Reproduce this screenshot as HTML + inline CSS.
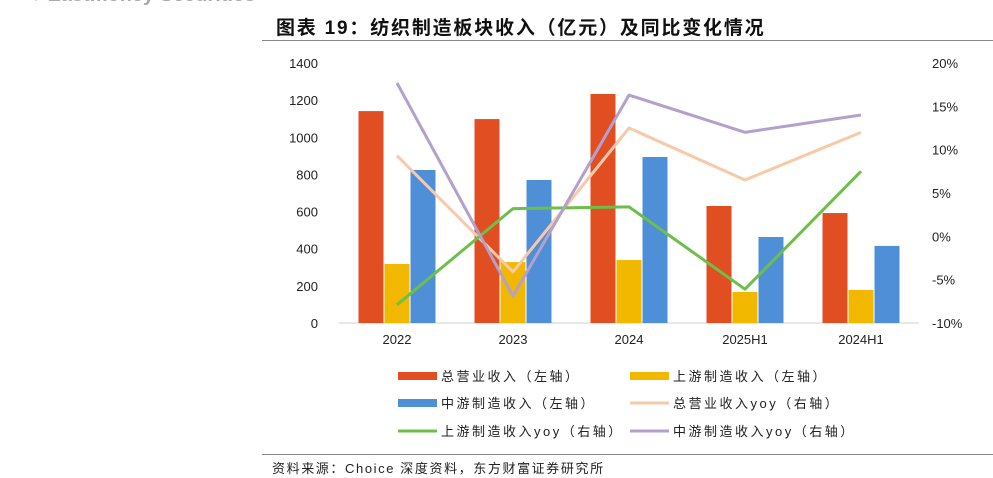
<!DOCTYPE html>
<html><head><meta charset="utf-8"><style>
body{margin:0;width:993px;height:478px;background:#fff;overflow:hidden;font-family:"Liberation Sans","Noto Sans CJK SC",sans-serif;position:relative}
.a{position:absolute}
</style></head><body>
<div class="a" style="left:30px;top:-16px;font-size:20px;font-weight:bold;color:#aaa;white-space:nowrap"><span style="color:#e0502a;font-size:12px">▼</span> Eastmoney Securities</div>
<div class="a" style="left:276px;top:13px;font-size:19px;font-weight:bold;color:#111;white-space:nowrap;letter-spacing:1.8px">图表 19：纺织制造板块收入（亿元）及同比变化情况</div>
<div class="a" style="left:262px;top:40px;width:731px;height:1px;background:#888"></div>
<svg class="a" style="left:0;top:0" width="993" height="478" id="chart"></svg>
<div class="a" style="left:262px;top:454px;width:731px;height:1px;background:#888"></div>
<div class="a" style="left:272px;top:458px;font-size:13px;color:#222;white-space:nowrap;letter-spacing:1.6px">资料来源：Choice 深度资料，东方财富证券研究所</div>
<script>
const categories=["2022","2023","2024","2025H1","2024H1"];
const totalRev=[1141,1098,1233,630,592];
const upRev=[318,328,339,167,178];
const midRev=[824,770,894,463,415];
const totalYoy=[9.3,-4.1,12.5,6.5,12.0];
const upYoy=[-7.9,3.2,3.4,-6.1,7.5];
const midYoy=[17.7,-6.9,16.3,12.0,14.0];
const leftTicks=[0,200,400,600,800,1000,1200,1400];
const rightTicks=[-10,-5,0,5,10,15,20];
const NS="http://www.w3.org/2000/svg",svg=document.getElementById('chart');
const X0=339,X1=919,Y0=323,Y1=63;
const bw=(X1-X0)/categories.length;
const cx=i=>X0+bw*(i+0.5);
const yL=v=>Y0-(v/1400)*(Y0-Y1);
const yR=v=>Y0-((v+10)/30)*(Y0-Y1);
function mk(t,a){const e=document.createElementNS(NS,t);for(const k in a)e.setAttribute(k,a[k]);svg.appendChild(e);return e;}
const ax=mk('line',{x1:X0,x2:X1,y1:Y0,y2:Y0,stroke:'#d0d0d0'});


leftTicks.forEach(v=>{const t=mk('text',{x:318,y:yL(v)+5,'text-anchor':'end','font-size':13,fill:'#222'});t.textContent=v;

});
rightTicks.forEach(v=>{const t=mk('text',{x:932,y:yR(v)+5,'font-size':13,fill:'#222'});t.textContent=v+'%';

});
categories.forEach((c,i)=>{const t=mk('text',{x:cx(i),y:344,'text-anchor':'middle','font-size':13,fill:'#222'});t.textContent=c;

});
const series=[[totalRev,'#e04e21',-26],[upRev,'#f2b800',0],[midRev,'#4f8fd8',26]];
series.forEach(([arr,col,off],si)=>arr.forEach((v,i)=>{const r=mk('rect',{x:cx(i)+off-12.5,y:yL(v),width:25,height:Y0-yL(v),fill:col});

}));
const lines=[[totalYoy,'#f8c9a8','total-yoy-line'],[upYoy,'#6cc04a','upstream-yoy-line'],[midYoy,'#b3a0cc','midstream-yoy-line']];
lines.forEach(([arr,col,n])=>{const p=mk('polyline',{points:arr.map((v,i)=>cx(i)+','+yR(v)).join(' '),fill:'none',stroke:col,'stroke-width':3,'stroke-linejoin':'round'});

});
const leg=[['总营业收入（左轴）','#e04e21','rect',398,376],['上游制造收入（左轴）','#f2b800','rect',630,376],['中游制造收入（左轴）','#4f8fd8','rect',398,403],['总营业收入yoy（右轴）','#f8c9a8','line',630,403],['上游制造收入yoy（右轴）','#6cc04a','line',398,431],['中游制造收入yoy（右轴）','#b3a0cc','line',630,431]];
leg.forEach(([t,c,k,x,y])=>{const s=k==='rect'?mk('rect',{x:x,y:y-4,width:39,height:8,fill:c}):mk('line',{x1:x,x2:x+39,y1:y,y2:y,stroke:c,'stroke-width':3});


const tx=mk('text',{x:x+43,y:y+5,'font-size':13,fill:'#222','letter-spacing':'2.5'});tx.textContent=t;

});
</script>
</body></html>
